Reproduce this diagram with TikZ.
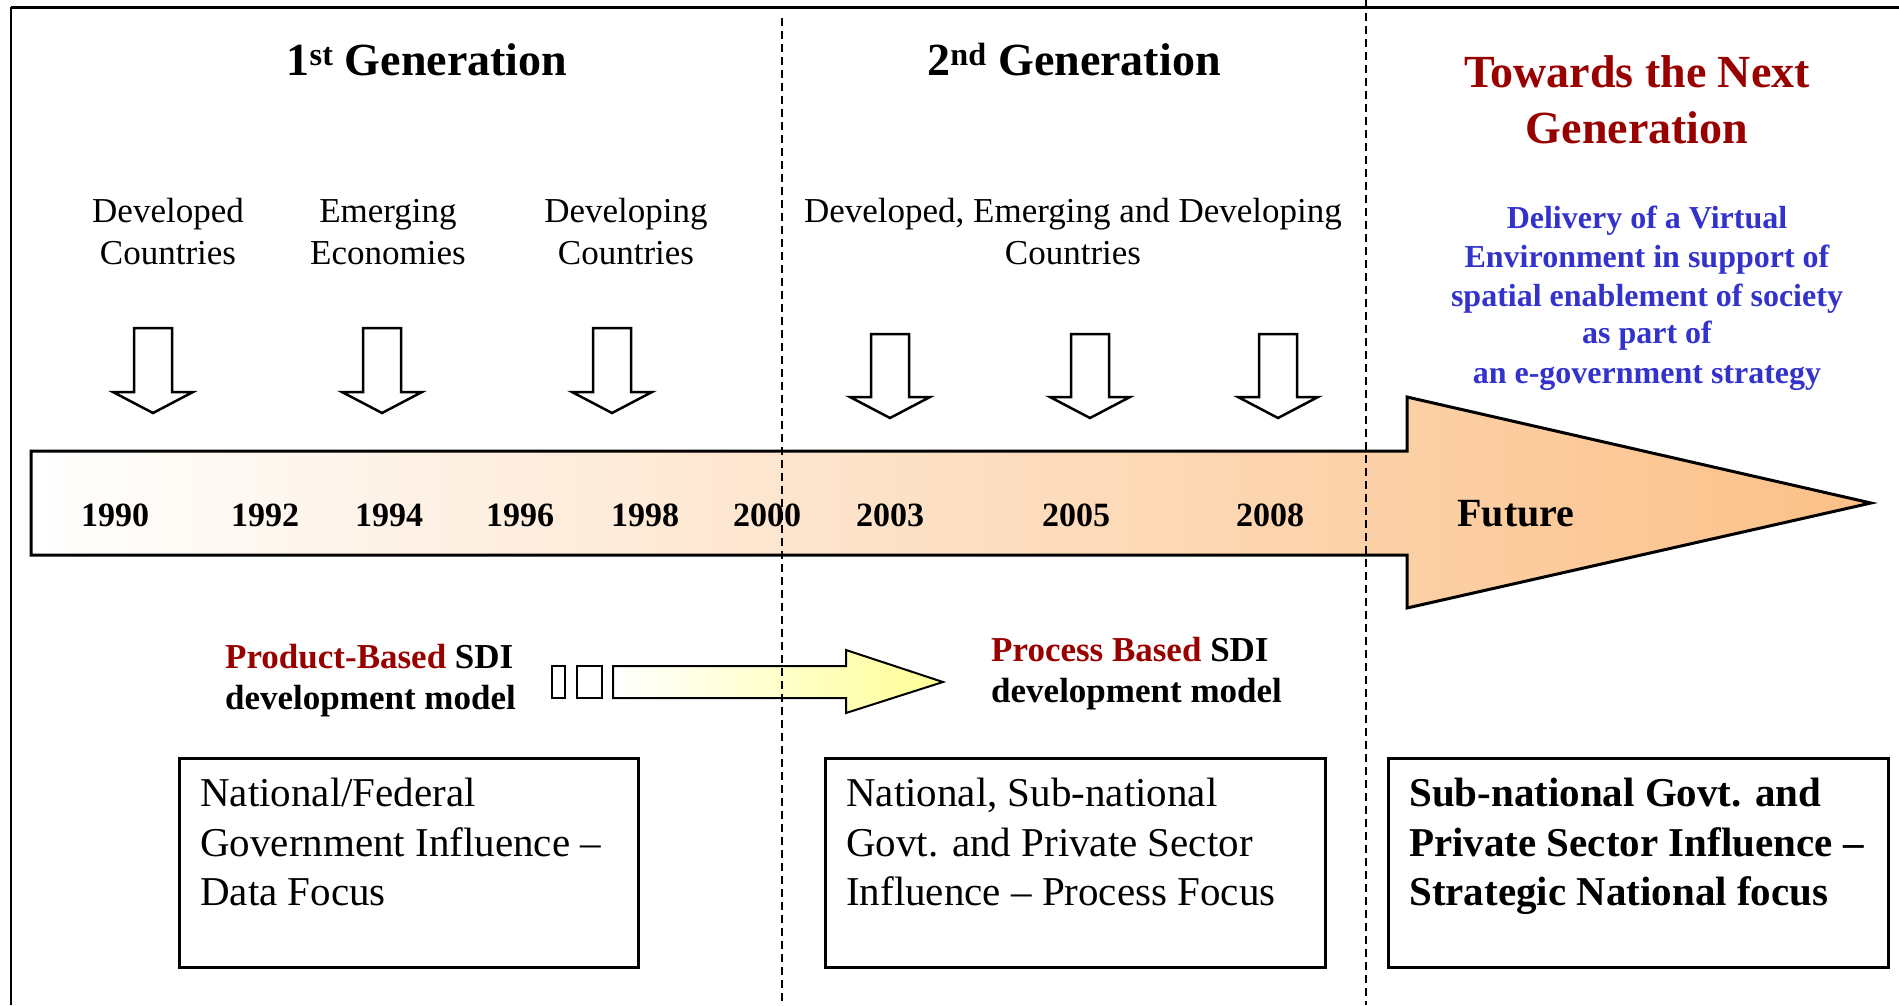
\documentclass[tikz,border=0pt]{standalone}
\usepackage{fontspec}
\setmainfont{Liberation Serif}
\definecolor{tred}{RGB}{153,0,0}
\definecolor{tblue}{RGB}{51,51,204}
\definecolor{peach}{RGB}{251,192,135}
\definecolor{lyellow}{RGB}{255,255,150}
\newcommand{\DArrow}[4]{%
  \draw[arrowline] (#1-19,#2) -- (#1+19,#2) -- (#1+19,#3) -- (#1+40,#3) -- (#1,#4) -- (#1-40,#3) -- (#1-19,#3) -- cycle;}
\begin{document}
\begin{tikzpicture}[x=1pt,y=-1pt,
  txt/.style={inner sep=0pt,anchor=base},
  ltxt/.style={inner sep=0pt,anchor=base west},
  titlefont/.style={font=\fontsize{46}{55}\selectfont\bfseries},
  grpfont/.style={font=\fontsize{35}{42}\selectfont},
  yearfont/.style={font=\fontsize{34}{40}\selectfont\bfseries},
  modelfont/.style={font=\fontsize{35}{42}\selectfont\bfseries},
  bluefont/.style={font=\fontsize{32}{38}\selectfont\bfseries,text=tblue},
  boxfont/.style={font=\fontsize{41}{49}\selectfont},
  boxbold/.style={font=\fontsize{41}{49}\selectfont\bfseries},
  arrowline/.style={draw=black,line width=2.5pt,fill=white,line join=miter},
  infobox/.style={draw=black,line width=2.5pt},
  divider/.style={draw=black,line width=2pt,dash pattern=on 8pt off 5pt}]
\useasboundingbox (0,0) rectangle (1899,1005);
% frame
\draw[line width=3pt] (11,7) -- (1899,7);
\draw[line width=2pt] (11,7) -- (11,1005);

% titles
\node[txt,titlefont] (g1) at (427,75) {1\textsuperscript{st} Generation};
\node[txt,titlefont] (g2) at (1074,75) {2\textsuperscript{nd} Generation};
\node[txt,titlefont,text=tred] (g3a) at (1637,87) {Towards the Next};
\node[txt,titlefont,text=tred] (g3b) at (1637,143) {Generation};

% blue text
\node[txt,bluefont] (b1) at (1647,228) {Delivery of a Virtual};
\node[txt,bluefont] (b2) at (1647,267) {Environment in support of};
\node[txt,bluefont] (b3) at (1647,306) {spatial enablement of society};
\node[txt,bluefont] (b4) at (1647,343) {as part of};
\node[txt,bluefont] (b5) at (1647,383) {an e-government strategy};

% group labels
\node[txt,grpfont] (c1a) at (168,222) {Developed};
\node[txt,grpfont] (c1b) at (168,264) {Countries};
\node[txt,grpfont] (c2a) at (388,222) {Emerging};
\node[txt,grpfont] (c2b) at (388,264) {Economies};
\node[txt,grpfont] (c3a) at (626,222) {Developing};
\node[txt,grpfont] (c3b) at (626,264) {Countries};
\node[txt,grpfont] (c4a) at (1073,222) {Developed, Emerging and Developing};
\node[txt,grpfont] (c4b) at (1073,264) {Countries};

% down arrows
\DArrow{153}{328}{392}{413}
\DArrow{382}{328}{392}{413}
\DArrow{612}{328}{392}{413}
\DArrow{890}{334}{397}{418}
\DArrow{1090}{334}{397}{418}
\DArrow{1278}{334}{397}{418}

% big timeline arrow
\shadedraw[left color=white,right color=peach,draw=black,line width=3pt,line join=miter]
  (31,451) -- (1407,451) -- (1407,397) -- (1871,503) -- (1407,608) -- (1407,555) -- (31,555) -- cycle;

% years
\node[txt,yearfont] (y1990) at (115,526) {1990};
\node[txt,yearfont] (y1992) at (265,526) {1992};
\node[txt,yearfont] (y1994) at (389,526) {1994};
\node[txt,yearfont] (y1996) at (520,526) {1996};
\node[txt,yearfont] (y1998) at (645,526) {1998};
\node[txt,yearfont] (y2000) at (767,526) {2000};
\node[txt,yearfont] (y2003) at (890,526) {2003};
\node[txt,yearfont] (y2005) at (1076,526) {2005};
\node[txt,yearfont] (y2008) at (1270,526) {2008};
\node[txt,font=\fontsize{40}{48}\selectfont\bfseries] (fut) at (1516,526) {Future};

% model labels
\node[ltxt,modelfont] (m1a) at (225,668) {\textcolor{tred}{Product-Based} SDI};
\node[ltxt,modelfont] (m1b) at (225,709) {development model};
\node[ltxt,modelfont] (m2a) at (991,661) {\textcolor{tred}{Process Based} SDI};
\node[ltxt,modelfont] (m2b) at (991,702) {development model};

% yellow transition arrow
\draw[line width=2pt] (552,666) rectangle (565,698);
\draw[line width=2pt] (577,666) rectangle (602,698);
\shadedraw[left color=white,right color=lyellow,draw=black,line width=2pt,line join=miter]
  (613,666) -- (846,666) -- (846,650) -- (943,682) -- (846,713) -- (846,698) -- (613,698) -- cycle;

% boxes
\node[infobox,minimum width=459pt,minimum height=209pt,inner sep=0pt,anchor=north west] (box1) at (178,757) {};
\node[infobox,minimum width=500pt,minimum height=209pt,inner sep=0pt,anchor=north west] (box2) at (824,757) {};
\node[infobox,minimum width=500pt,minimum height=209pt,inner sep=0pt,anchor=north west] (box3) at (1387,757) {};

\node[ltxt,boxfont] (t1a) at (200,806) {National/Federal};
\node[ltxt,boxfont] (t1b) at (200,856) {Government Influence –};
\node[ltxt,boxfont] (t1c) at (200,905) {Data Focus};
\node[ltxt,boxfont] (t2a) at (846,806) {National, Sub-national};
\node[ltxt,boxfont] (t2b) at (846,856) {Govt. and Private Sector};
\node[ltxt,boxfont] (t2c) at (846,905) {Influence – Process Focus};
\node[ltxt,boxbold] (t3a) at (1409,806) {Sub-national Govt. and};
\node[ltxt,boxbold] (t3b) at (1409,856) {Private Sector Influence –};
\node[ltxt,boxbold] (t3c) at (1409,905) {Strategic National focus};

% dividers
\draw[divider] (782,18) -- (782,1005);
\draw[divider] (1366,0) -- (1366,1005);
\end{tikzpicture}
\end{document}
